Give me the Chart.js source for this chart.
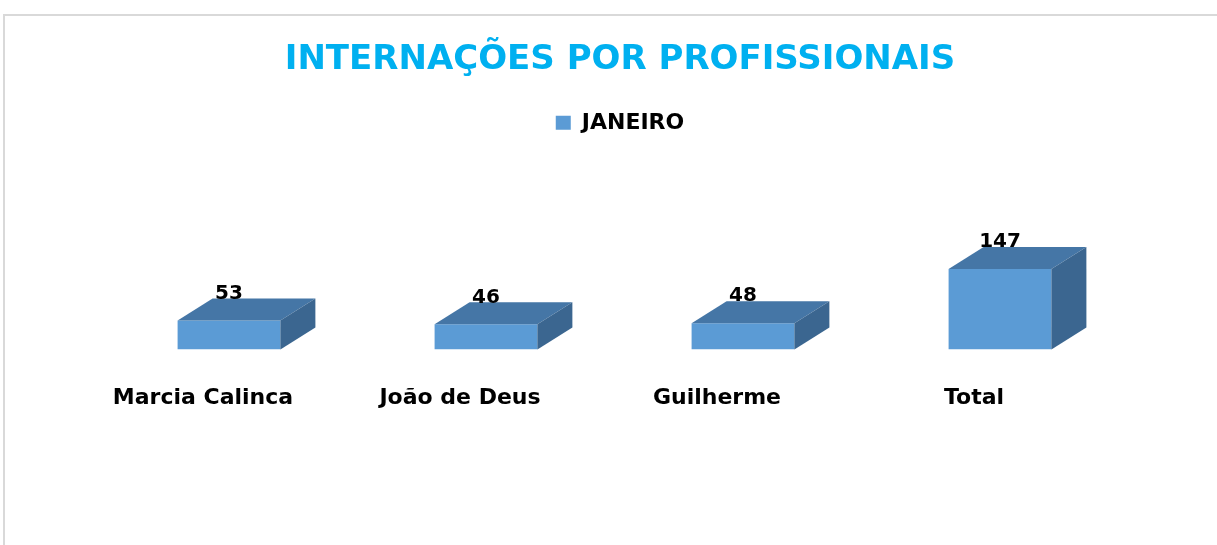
<!DOCTYPE html>
<html>
<head>
<meta charset="utf-8">
<script src="https://cdn.jsdelivr.net/npm/chart.js@4"></script>
<style>
  html, body { margin: 0; padding: 0; background: #fff; overflow: hidden; }
  #frame {
    position: absolute; left: 3px; top: 14px; width: 1300px; height: 600px;
    border-top: 2px solid #d9d9d9; border-left: 2px solid #d9d9d9;
  }
  #chart { position: absolute; left: 0; top: 0; }
</style>
</head>
<body>
<div id="frame"></div>
<canvas id="chart" width="1217" height="545"></canvas>
<script>
const categories = ["Marcia Calinca", "João de Deus", "Guilherme", "Total"];
const janeiro = [53, 46, 48, 147];
const seriesName = "JANEIRO";

const FONT = "'DejaVu Sans', Verdana, sans-serif";
const DEPTH_X = 35;
const DEPTH_Y = 22;
const SHIFT_X = 26; // front faces sit right of the category labels

// fake 3D: top and side faces + value labels
const bar3d = {
  id: "bar3d",
  beforeDatasetsDraw(chart) {
    chart.ctx.save();
    chart.ctx.translate(SHIFT_X, 0);
  },
  afterDatasetsDraw(chart) {
    const ctx = chart.ctx;
    const meta = chart.getDatasetMeta(0);
    meta.data.forEach((bar, i) => {
      const p = bar.getProps(["x", "y", "base", "width"], true);
      const x0 = p.x - p.width / 2;
      const x1 = p.x + p.width / 2;

      ctx.fillStyle = "#4576a6";
      ctx.beginPath();
      ctx.moveTo(x0, p.y);
      ctx.lineTo(x0 + DEPTH_X, p.y - DEPTH_Y);
      ctx.lineTo(x1 + DEPTH_X, p.y - DEPTH_Y);
      ctx.lineTo(x1, p.y);
      ctx.closePath();
      ctx.fill();

      ctx.fillStyle = "#3b6690";
      ctx.beginPath();
      ctx.moveTo(x1, p.y);
      ctx.lineTo(x1 + DEPTH_X, p.y - DEPTH_Y);
      ctx.lineTo(x1 + DEPTH_X, p.base - DEPTH_Y);
      ctx.lineTo(x1, p.base);
      ctx.closePath();
      ctx.fill();

      ctx.fillStyle = "#000";
      ctx.font = "bold 20px " + FONT;
      ctx.textAlign = "center";
      ctx.textBaseline = "middle";
      ctx.fillText(janeiro[i], p.x, p.y - DEPTH_Y - 5);
    });
    ctx.restore();
  },
};

new Chart(document.getElementById("chart"), {
  type: "bar",
  data: {
    labels: categories,
    datasets: [
      {
        label: seriesName,
        data: janeiro,
        backgroundColor: "#5b9bd5",
        borderWidth: 0,
        barPercentage: 0.4,
        categoryPercentage: 1,
      },
    ],
  },
  plugins: [bar3d],
  options: {
    responsive: false,
    animation: false,
    devicePixelRatio: 1,
    layout: { padding: { left: 23, right: 0, top: 0, bottom: 99 } },
    plugins: {
      tooltip: { enabled: false },
      title: {
        display: true,
        text: "INTERNAÇÕES POR PROFISSIONAIS",
        color: "#00b0f0",
        font: { family: FONT, size: 34, weight: "bold" },
        padding: { top: 40, bottom: 21 },
      },
      legend: {
        display: true,
        labels: {
          color: "#000",
          boxWidth: 15,
          boxHeight: 14,
          font: { family: FONT, size: 22, weight: "bold" },
        },
      },
    },
    scales: {
      x: {
        grid: { display: false, drawTicks: false },
        border: { display: false },
        ticks: {
          color: "#000",
          padding: 35,
          maxRotation: 0,
          font: { family: FONT, size: 22, weight: "bold" },
        },
      },
      y: {
        min: 0,
        max: 375,
        grid: { display: false },
        border: { display: false },
        ticks: { display: false },
        afterFit: (s) => { s.width = 51.5; },
      },
      y2: {
        position: "right",
        grid: { display: false },
        border: { display: false },
        ticks: { display: false },
        afterFit: (s) => { s.width = 114.5; },
      },
    },
  },
});
</script>
</body>
</html>
